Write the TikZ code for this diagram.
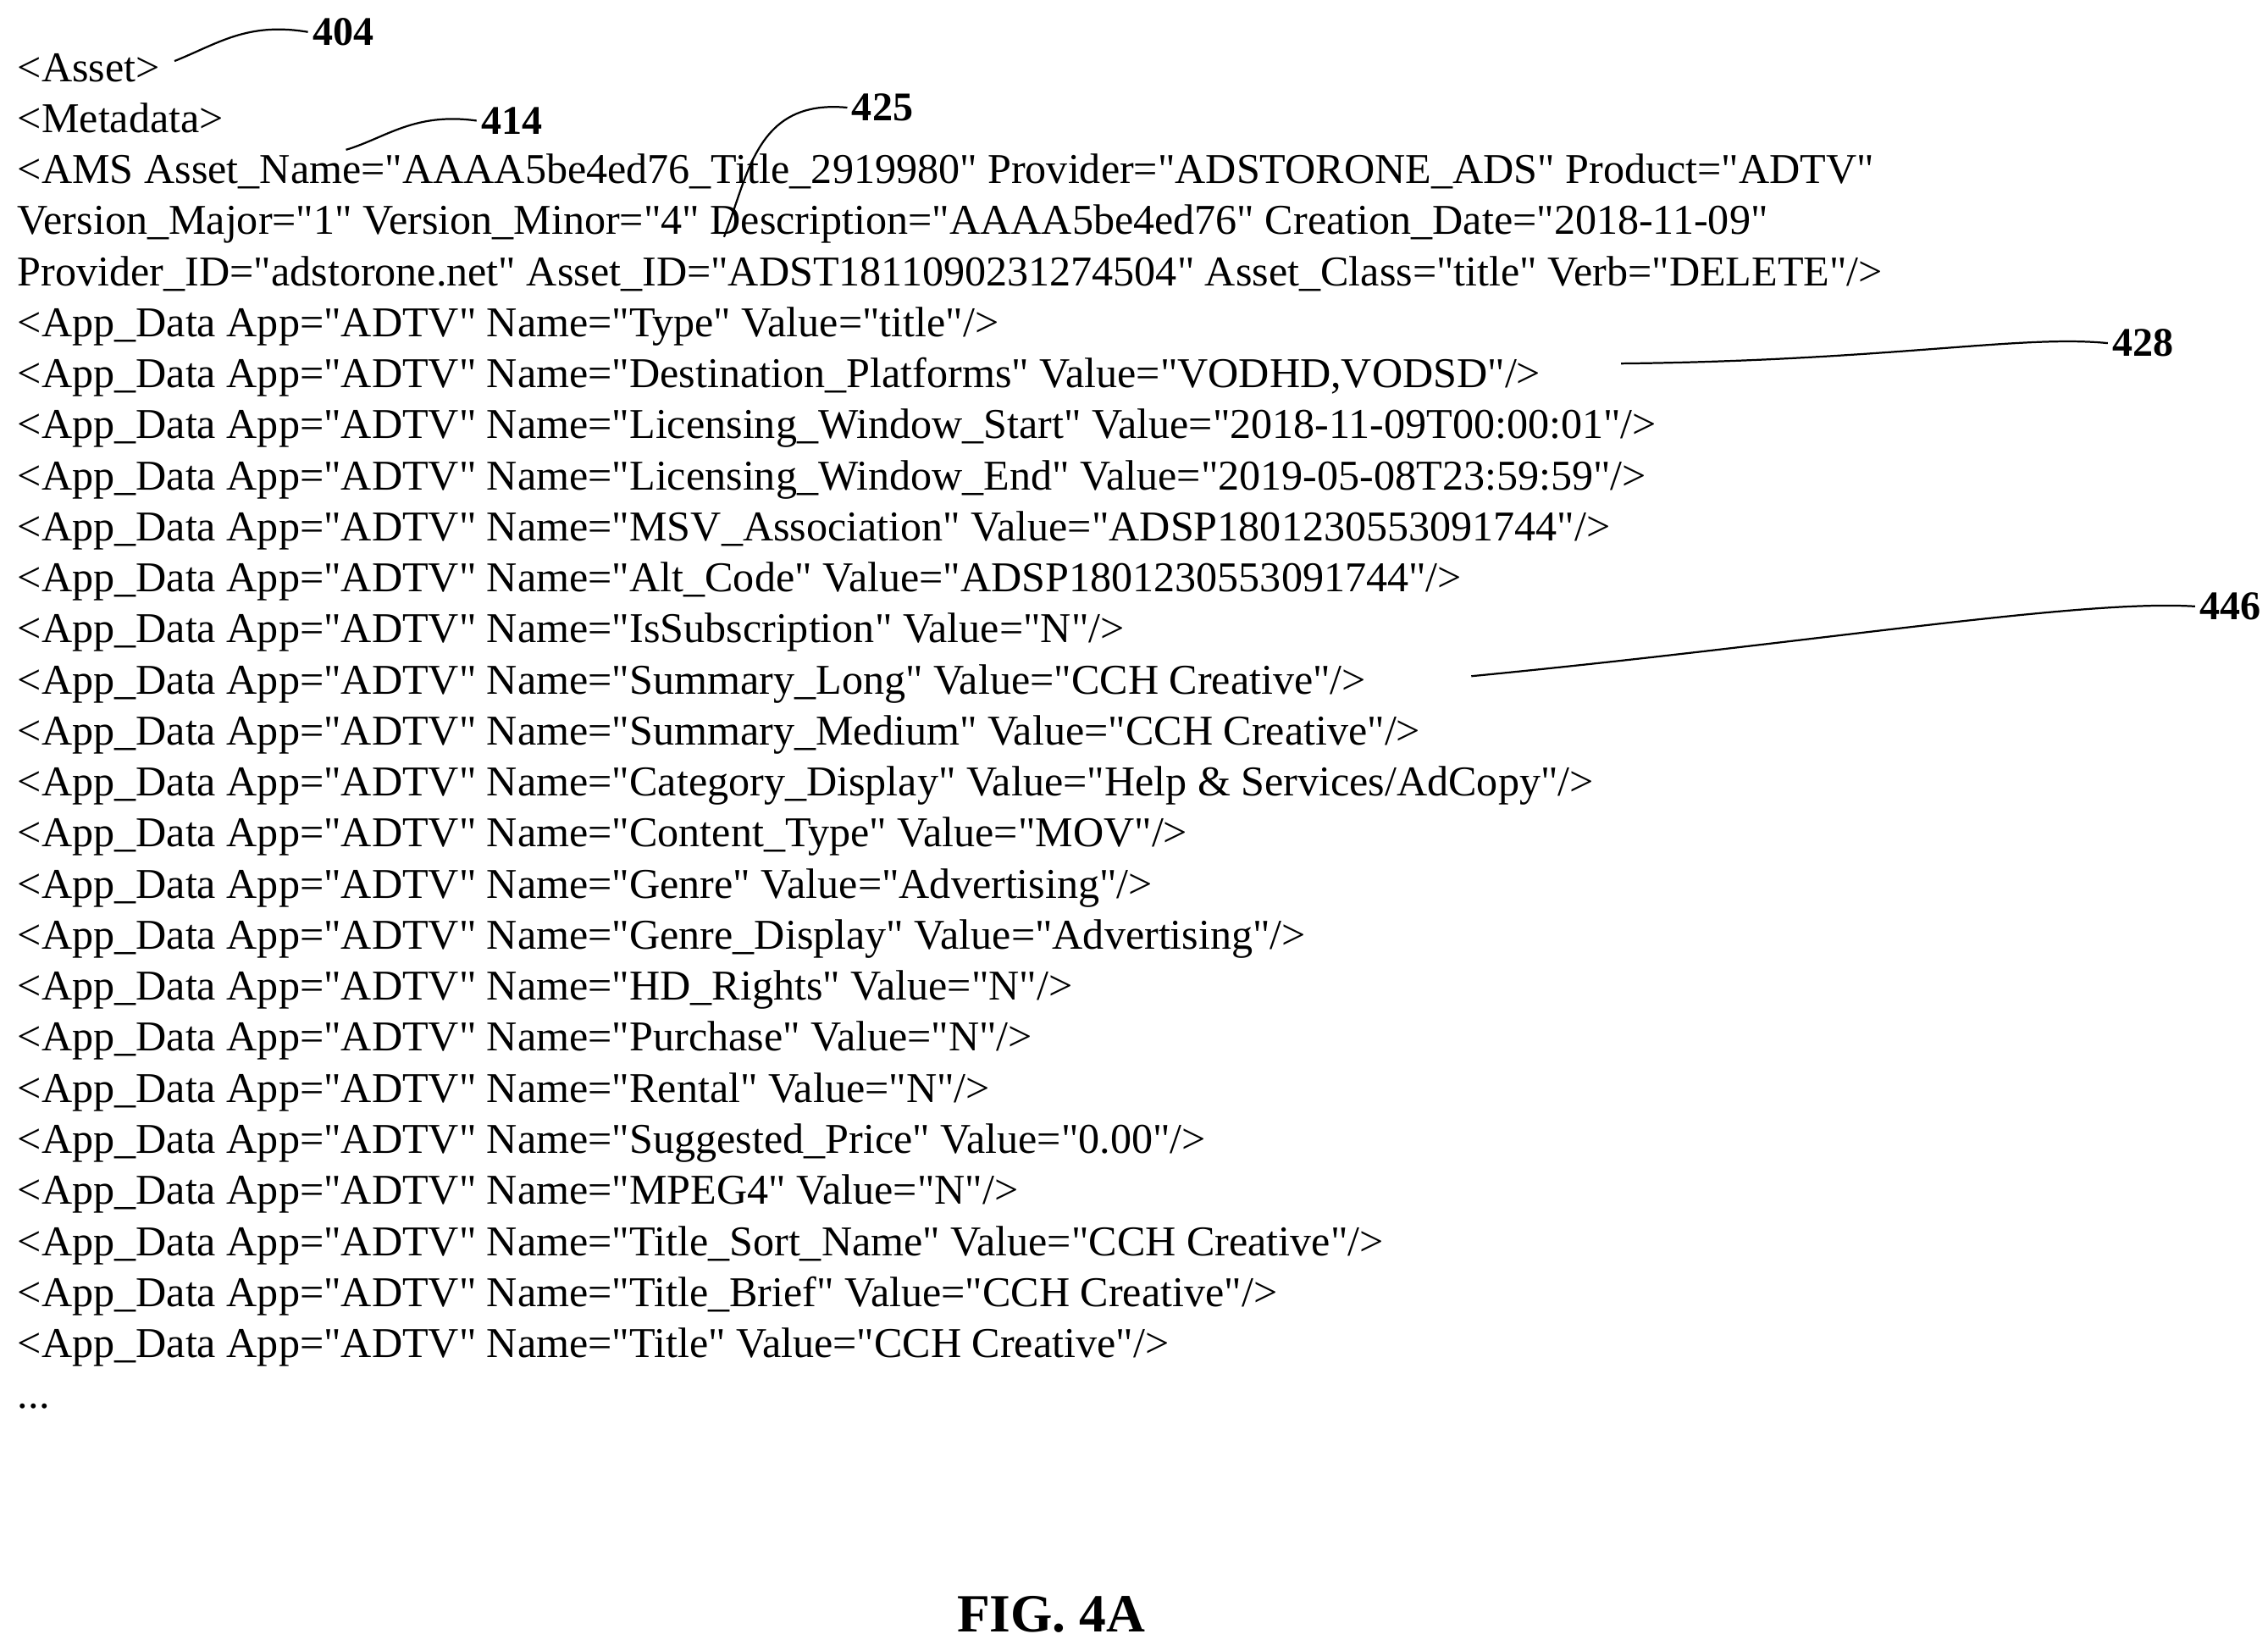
\documentclass[tikz,border=0pt]{standalone}
\usepackage{fontspec}
\setmainfont{Liberation Serif}[Ligatures=TeXOff]
\begin{document}
\begin{tikzpicture}[x=1pt,y=-1pt,
  ln/.style={anchor=base west,inner sep=0pt,font=\fontsize{29.2}{33}\selectfont},
  lab/.style={anchor=center,inner sep=0pt,font=\fontsize{28}{32}\selectfont\bfseries},
  lead/.style={line width=1.3pt}]
\useasboundingbox (0,0) rectangle (1560,1131);
\newcommand{\Ln}[2]{\node[ln] (l#1) at (12,{56+35.1*#1}) {#2};}
\Ln{0}{<Asset>}
\Ln{1}{<Metadata>}
\Ln{2}{<AMS Asset\_Name="AAAA5be4ed76\_Title\_2919980" Provider="ADSTORONE\_ADS" Product="ADTV"}
\Ln{3}{Version\_Major="1" Version\_Minor="4" Description="AAAA5be4ed76" Creation\_Date="2018-11-09"}
\Ln{4}{Provider\_ID="adstorone.net" Asset\_ID="ADST1811090231274504" Asset\_Class="title" Verb="DELETE"/>}
\Ln{5}{<App\_Data App="ADTV" Name="Type" Value="title"/>}
\Ln{6}{<App\_Data App="ADTV" Name="Destination\_Platforms" Value="VODHD,VODSD"/>}
\Ln{7}{<App\_Data App="ADTV" Name="Licensing\_Window\_Start" Value="2018-11-09T00:00:01"/>}
\Ln{8}{<App\_Data App="ADTV" Name="Licensing\_Window\_End" Value="2019-05-08T23:59:59"/>}
\Ln{9}{<App\_Data App="ADTV" Name="MSV\_Association" Value="ADSP1801230553091744"/>}
\Ln{10}{<App\_Data App="ADTV" Name="Alt\_Code" Value="ADSP1801230553091744"/>}
\Ln{11}{<App\_Data App="ADTV" Name="IsSubscription" Value="N"/>}
\Ln{12}{<App\_Data App="ADTV" Name="Summary\_Long" Value="CCH Creative"/>}
\Ln{13}{<App\_Data App="ADTV" Name="Summary\_Medium" Value="CCH Creative"/>}
\Ln{14}{<App\_Data App="ADTV" Name="Category\_Display" Value="Help \& Services/AdCopy"/>}
\Ln{15}{<App\_Data App="ADTV" Name="Content\_Type" Value="MOV"/>}
\Ln{16}{<App\_Data App="ADTV" Name="Genre" Value="Advertising"/>}
\Ln{17}{<App\_Data App="ADTV" Name="Genre\_Display" Value="Advertising"/>}
\Ln{18}{<App\_Data App="ADTV" Name="HD\_Rights" Value="N"/>}
\Ln{19}{<App\_Data App="ADTV" Name="Purchase" Value="N"/>}
\Ln{20}{<App\_Data App="ADTV" Name="Rental" Value="N"/>}
\Ln{21}{<App\_Data App="ADTV" Name="Suggested\_Price" Value="0.00"/>}
\Ln{22}{<App\_Data App="ADTV" Name="MPEG4" Value="N"/>}
\Ln{23}{<App\_Data App="ADTV" Name="Title\_Sort\_Name" Value="CCH Creative"/>}
\Ln{24}{<App\_Data App="ADTV" Name="Title\_Brief" Value="CCH Creative"/>}
\Ln{25}{<App\_Data App="ADTV" Name="Title" Value="CCH Creative"/>}
\Ln{26}{...}
\node[lab] (n404) at (236,22) {404};
\node[lab] (n414) at (352,83) {414};
\node[lab] (n425) at (607,74) {425};
\node[lab] (n428) at (1474,236) {428};
\node[lab] (n446) at (1534,417) {446};
\node[lab,font=\fontsize{37}{40}\selectfont\bfseries] (fig) at (723,1110) {FIG. 4A};
\coordinate (a404) at (120,42);
\coordinate (a414) at (238,103);
\coordinate (a425) at (498,163);
\coordinate (a428) at (1115,250);
\coordinate (a446) at (1012,465);
\draw[lead] (a404) .. controls (150,30) and (170,15) .. ([xshift=-3]n404.west);
\draw[lead] (a414) .. controls (265,95) and (285,77) .. ([xshift=-3]n414.west);
\draw[lead] (a425) .. controls (515,120) and (520,68) .. ([xshift=-3]n425.west);
\draw[lead] (a428) .. controls (1300,248) and (1390,230) .. ([xshift=-3]n428.west);
\draw[lead] (a446) .. controls (1250,442) and (1430,412) .. ([xshift=-3]n446.west);
\end{tikzpicture}
\end{document}
